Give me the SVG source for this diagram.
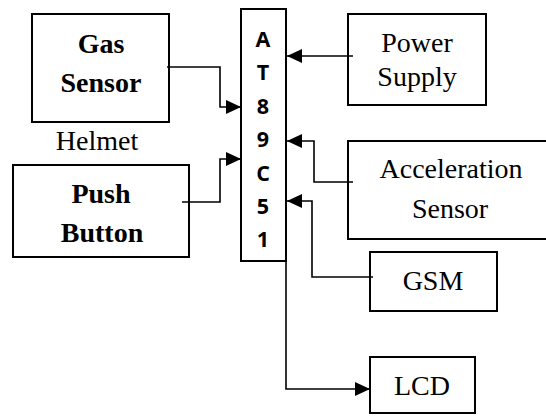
<svg xmlns="http://www.w3.org/2000/svg" width="546" height="416" viewBox="0 0 546 416">
<style>
.box{fill:#fff;stroke:#000;stroke-width:2}
.ln{fill:none;stroke:#000;stroke-width:1.6}
</style>
<defs>
<marker id="ah" markerUnits="userSpaceOnUse" markerWidth="16" markerHeight="14" refX="15" refY="7" orient="auto">
<path d="M0,0 L15,7 L0,14 Z" fill="#000"/>
</marker>
</defs>
<rect width="546" height="416" fill="#fff"/>
<g id="gas-sensor">
<rect class="box" x="32" y="14" width="137" height="108"/>
<text font-family="Liberation Serif" font-size="28" text-anchor="middle" font-weight="bold" x="101" y="53">Gas</text>
<text font-family="Liberation Serif" font-size="28" text-anchor="middle" font-weight="bold" x="101" y="92">Sensor</text>
</g>
<g id="helmet">
<text font-family="Liberation Serif" font-size="28" text-anchor="middle" x="97" y="150">Helmet</text>
</g>
<g id="push-button">
<rect class="box" x="13" y="165" width="176" height="92"/>
<text font-family="Liberation Serif" font-size="28" text-anchor="middle" font-weight="bold" x="101" y="203">Push</text>
<text font-family="Liberation Serif" font-size="28" text-anchor="middle" font-weight="bold" x="102" y="242">Button</text>
</g>
<g id="power-supply">
<rect class="box" x="348" y="14" width="138" height="91"/>
<text font-family="Liberation Serif" font-size="28" text-anchor="middle" x="417" y="52">Power</text>
<text font-family="Liberation Serif" font-size="28" text-anchor="middle" x="417" y="86">Supply</text>
</g>
<g id="acceleration-sensor">
<rect class="box" x="348" y="141" width="210" height="98"/>
<text font-family="Liberation Serif" font-size="28" text-anchor="middle" x="451" y="178">Acceleration</text>
<text font-family="Liberation Serif" font-size="28" text-anchor="middle" x="450" y="218">Sensor</text>
</g>
<g id="gsm">
<rect class="box" x="370" y="252" width="127" height="59"/>
<text font-family="Liberation Serif" font-size="28" text-anchor="middle" x="433" y="290">GSM</text>
</g>
<g id="lcd">
<rect class="box" x="370" y="357" width="105" height="56"/>
<text font-family="Liberation Serif" font-size="28" text-anchor="middle" x="422" y="395">LCD</text>
</g>
<g id="mcu" font-family="Open Sans" font-weight="bold" font-size="21.5" text-anchor="middle" fill="#000">
<rect class="box" x="241" y="9" width="45" height="252"/>
<text x="263" y="47">A</text>
<text x="263" y="80">T</text>
<text x="263" y="114">8</text>
<text x="263" y="147">9</text>
<text x="263" y="181">C</text>
<text x="263" y="214">5</text>
<text x="263" y="247">1</text>
</g>
<g id="connectors">
<path class="ln" d="M167,67 H220 V107 H241" marker-end="url(#ah)"/>
<path class="ln" d="M182,202 H220 V159 H241" marker-end="url(#ah)"/>
<path class="ln" d="M353,56 H287" marker-end="url(#ah)"/>
<path class="ln" d="M353,182 H314 V141 H287" marker-end="url(#ah)"/>
<path class="ln" d="M373,277 H312 V201 H287" marker-end="url(#ah)"/>
<path class="ln" d="M286,261 V389 H370" marker-end="url(#ah)"/>
</g>
</svg>
